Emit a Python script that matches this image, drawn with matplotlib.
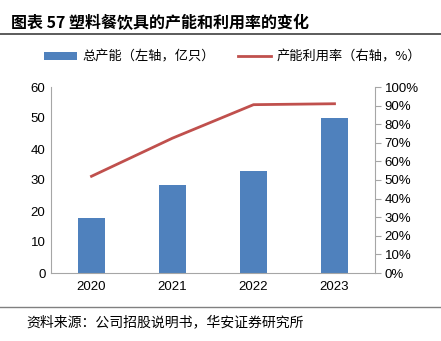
import matplotlib.pyplot as plt
from matplotlib.ticker import PercentFormatter

plt.rcParams['font.family'] = ['Noto Sans CJK SC', 'DejaVu Sans']

# 数据
years = ["2020", "2021", "2022", "2023"]
capacity = [17.6, 28.4, 32.9, 50.0]        # 总产能（亿只）
utilization = [52.0, 72.5, 90.5, 91.0]     # 产能利用率（%）

bar_color = "#4f81bd"
line_color = "#c0504d"

fig = plt.figure(figsize=(4.41, 3.41), dpi=100)
ax = fig.add_axes([51 / 441, 68 / 341, (375 - 51) / 441, (273 - 87) / 341])
ax2 = ax.twinx()

x = range(len(years))
b = ax.bar(x, capacity, width=0.34, color=bar_color, label="总产能（左轴，亿只）", zorder=2)
l, = ax2.plot(x, utilization, color=line_color, lw=2, label="产能利用率（右轴，%）", zorder=3)

ax.set_xlim(-0.5, 3.5)
ax.set_ylim(0, 60)
ax.set_yticks(range(0, 61, 10))
ax2.set_ylim(0, 100)
ax2.set_yticks(range(0, 101, 10))
ax2.yaxis.set_major_formatter(PercentFormatter(decimals=0))
ax.set_xticks(list(x))
ax.set_xticklabels(years)

for a in (ax, ax2):
    a.spines["top"].set_visible(False)
    a.spines["left"].set_color("#a6a6a6")
    a.spines["right"].set_color("#a6a6a6")
    a.spines["bottom"].set_color("#a6a6a6")
    a.tick_params(labelsize=9.5, colors="black", length=0, pad=4)
ax.spines["right"].set_visible(False)
ax2.spines["left"].set_visible(False)
ax2.spines["bottom"].set_visible(False)
ax2.tick_params(axis="y", length=4, direction="out", color="#a6a6a6", pad=3)
ax.tick_params(axis="x", pad=6)
for t in ax.get_yticklabels() + ax2.get_yticklabels() + ax.get_xticklabels():
    t.set_fontname("Liberation Sans")

ax.legend([b, l], [b.get_label(), l.get_label()], loc="upper center",
          bbox_to_anchor=(0.56, 1.26), ncol=2, frameon=False, fontsize=9.5,
          handlelength=2.5, handleheight=0.6, columnspacing=1.8, handletextpad=0.4)

# 标题和来源
fig.text(0.025, 1 - 23 / 341, "图表 57 塑料餐饮具的产能和利用率的变化", fontsize=11.5,
         fontweight="bold", va="center", ha="left")
fig.add_artist(plt.Line2D([0, 1], [1 - 34 / 341, 1 - 34 / 341], color="#404040", lw=1.2))
fig.add_artist(plt.Line2D([0, 1], [1 - 307 / 341, 1 - 307 / 341], color="#808080", lw=1))
fig.text(0.06, 1 - 322 / 341, "资料来源：公司招股说明书，华安证券研究所", fontsize=10,
         va="center", ha="left")

fig.savefig("out.png", dpi=100)
